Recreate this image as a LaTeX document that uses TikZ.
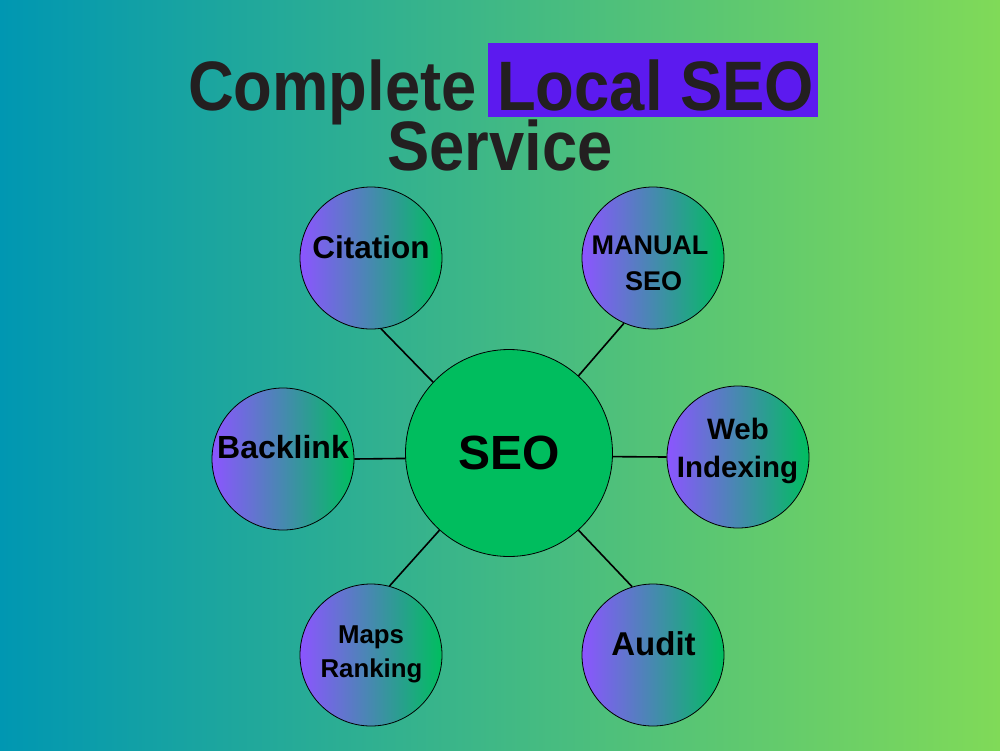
\documentclass[tikz,border=0pt]{standalone}
\usepackage{fontspec}
\setmainfont{Liberation Sans}
\usepackage{graphicx}
\definecolor{bgleft}{RGB}{0,151,178}
\definecolor{bgright}{RGB}{128,218,88}
\definecolor{titlegray}{RGB}{35,31,32}
\definecolor{hlpurple}{RGB}{92,26,239}
\definecolor{cpurple}{RGB}{140,85,255}
\definecolor{cgreen}{RGB}{0,190,95}
\definecolor{seogreen}{RGB}{0,189,94}
\tikzset{
  titletxt/.style={text=titlegray, inner sep=0pt, font=\bfseries\fontsize{70}{84}\selectfont},
  small/.style={circle, draw=black, line width=0.8pt, minimum size=142pt, inner sep=0pt, left color=cpurple, right color=cgreen},
  hub/.style={circle, draw=black, line width=0.8pt, minimum size=207pt, inner sep=0pt, fill=seogreen},
  lbl/.style={inner sep=0pt, anchor=base, text=black},
  conn/.style={draw=black, line width=1.6pt}
}
\begin{document}
\begin{tikzpicture}[x=1pt,y=-1pt]
\useasboundingbox (0,0) rectangle (1000,750);
\shade[left color=bgleft, right color=bgright] (0,0) rectangle (1000,750);
% title
\fill[hlpurple] (488,43) rectangle (818,117);
\node[titletxt, anchor=base west] (t1) at (188,110) {\scalebox{0.905}[1]{Complete}};
\node[titletxt, anchor=base west] (t2) at (497,110) {\scalebox{0.905}[1]{Local SEO}};
\node[titletxt, anchor=base] (t3) at (500,170) {\scalebox{0.905}[1]{Service}};
% circles
\node[hub] (seo) at (509,453) {};
\node[small] (cit) at (371,258) {};
\node[small] (man) at (653,258) {};
\node[small] (back) at (283,459) {};
\node[small] (web) at (738,457) {};
\node[small] (maps) at (371,655) {};
\node[small] (aud) at (653,655) {};
% connectors
\draw[conn] (seo.137) -- (cit.-82);
\draw[conn] (seo.48.5) -- (man.-114);
\draw[conn] (seo.183.3) -- (back.0);
\draw[conn] (seo.-2.2) -- (web.180);
\draw[conn] (seo.-132) -- (maps.75.6);
\draw[conn] (seo.-48) -- (aud.107);
% labels
\node[lbl, font=\bfseries\fontsize{48}{56}\selectfont] (seoL) at (509,469) {SEO};
\node[lbl, font=\bfseries\fontsize{31.5}{36}\selectfont] (citL) at (371,258) {Citation};
\node[lbl, font=\bfseries\fontsize{27}{32}\selectfont] (manL1) at (650,254) {MANUAL};
\node[lbl, font=\bfseries\fontsize{27}{32}\selectfont] (manL2) at (653.5,290) {SEO};
\node[lbl, font=\bfseries\fontsize{32}{36}\selectfont] (backL) at (283,458) {Backlink};
\node[lbl, font=\bfseries\fontsize{29.5}{34}\selectfont] (webL1) at (738,439) {Web};
\node[lbl, font=\bfseries\fontsize{29.5}{34}\selectfont] (webL2) at (737.5,477) {Indexing};
\node[lbl, font=\bfseries\fontsize{25.8}{30}\selectfont] (mapsL1) at (371,643) {Maps};
\node[lbl, font=\bfseries\fontsize{25.8}{30}\selectfont] (mapsL2) at (371.5,677) {Ranking};
\node[lbl, font=\bfseries\fontsize{33}{38}\selectfont] (audL) at (653.5,655) {Audit};
\end{tikzpicture}
\end{document}
